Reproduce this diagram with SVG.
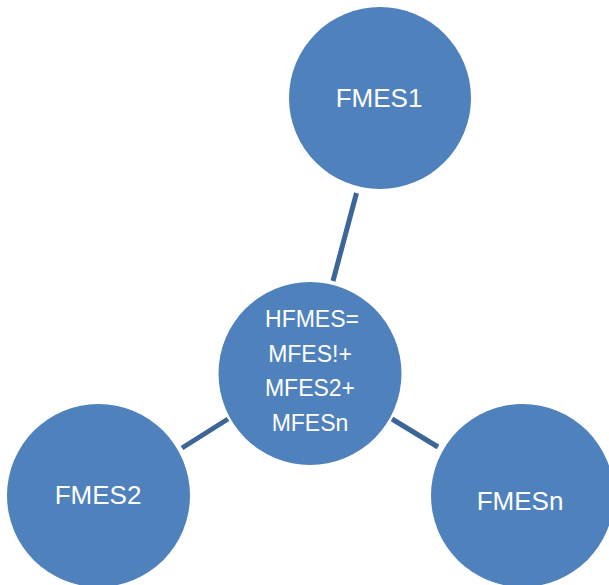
<svg xmlns="http://www.w3.org/2000/svg" width="609" height="585" viewBox="0 0 609 585">
<style>
.node{fill:#4F81BD;}
.lbl{font-family:"Liberation Sans",Arial,sans-serif;font-size:26px;fill:#FFFFFF;text-anchor:middle;}
.ctr{font-family:"Liberation Sans",Arial,sans-serif;font-size:23px;fill:#FFFFFF;text-anchor:middle;}
.conn{stroke:#3D6698;stroke-width:5;fill:none;}
</style>
<rect width="609" height="585" fill="#FFFFFF"/>
<g id="connectors">
<line class="conn" x1="356.5" y1="193" x2="333" y2="281"/>
<line class="conn" x1="228" y1="419" x2="182" y2="448"/>
<line class="conn" x1="392" y1="419" x2="438" y2="447"/>
</g>
<g id="fmes1">
<circle class="node" cx="380" cy="98" r="91"/>
<text class="lbl" x="379" y="107">FMES1</text>
</g>
<g id="hfmes">
<circle class="node" cx="310" cy="373.5" r="91.5"/>
<text class="ctr" x="312" y="327">HFMES=</text>
<text class="ctr" x="310" y="362">MFES!+</text>
<text class="ctr" x="310" y="396">MFES2+</text>
<text class="ctr" x="310" y="431">MFESn</text>
</g>
<g id="fmes2">
<circle class="node" cx="98.5" cy="495.5" r="91.5"/>
<text class="lbl" x="98" y="504">FMES2</text>
</g>
<g id="fmesn">
<circle class="node" cx="522.5" cy="495.5" r="91.5"/>
<text class="lbl" x="520" y="510">FMESn</text>
</g>
</svg>
